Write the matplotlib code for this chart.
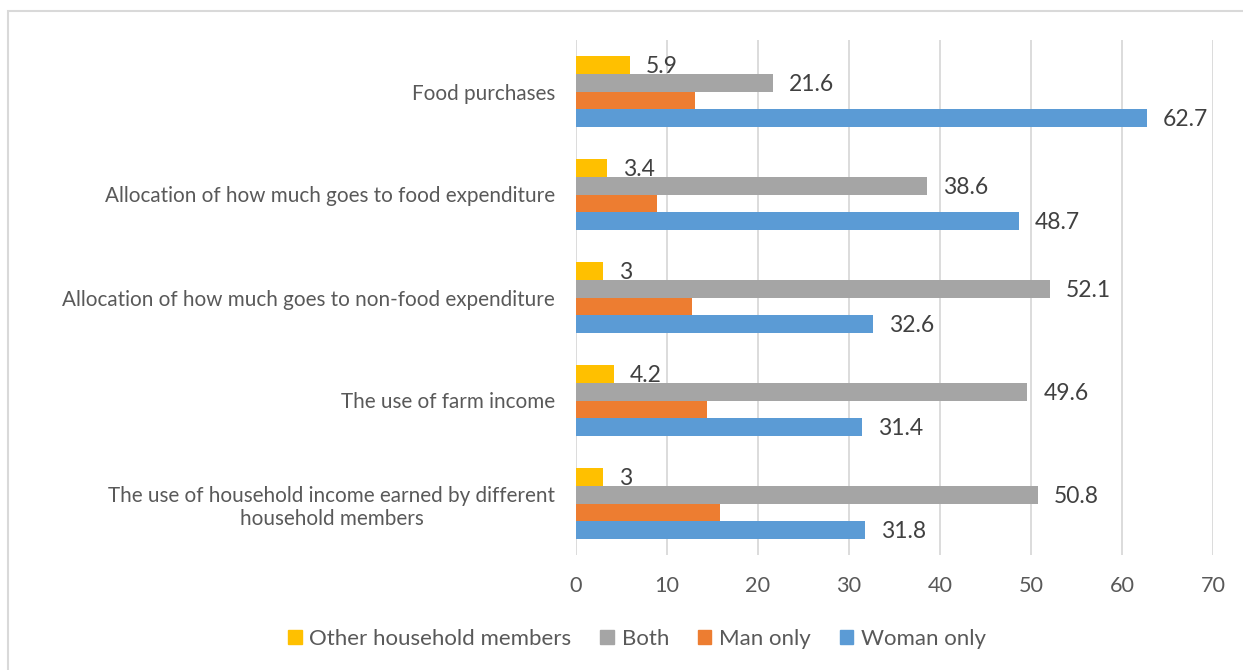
import matplotlib.pyplot as plt
import numpy as np
from matplotlib.patches import Patch, Rectangle

# Decision areas, top to bottom
categories = [
    'Food purchases',
    'Allocation of how much goes to food expenditure',
    'Allocation of how much goes to non-food expenditure',
    'The use of farm income',
    'The use of household income earned by different\nhousehold members',
]

# Share of respondents (%) per decision maker
other_members = [5.9, 3.4, 3, 4.2, 3]
both = [21.6, 38.6, 52.1, 49.6, 50.8]
man_only = [13.1, 8.9, 12.7, 14.4, 15.8]
woman_only = [62.7, 48.7, 32.6, 31.4, 31.8]

series = [
    ('Other household members', other_members, '#FFC000', True),
    ('Both', both, '#A5A5A5', True),
    ('Man only', man_only, '#ED7D31', False),
    ('Woman only', woman_only, '#5B9BD5', True),
]

plt.rcParams['font.family'] = ['Lato', 'DejaVu Sans']

fig = plt.figure(figsize=(12.43, 6.70), dpi=100)
ax = fig.add_axes([576 / 1243, 1 - 555 / 670, (1213 - 576) / 1243, (555 - 40) / 670])

bar_h = 0.17
ind = np.arange(len(categories))

for i, (name, vals, color, show_labels) in enumerate(series):
    y = ind + (i - 1.5) * bar_h
    bars = ax.barh(y, vals, height=bar_h, color=color, label=name, zorder=3)
    if show_labels:
        for rect, v in zip(bars, vals):
            ax.annotate(f'{v:g}', (rect.get_width(), rect.get_y() + rect.get_height() / 2),
                        xytext=(11.5, -1), textcoords='offset points',
                        va='center', ha='left', fontsize=16.5, color='#404040')

ax.set_ylim(len(categories) - 0.5, -0.5)
ax.set_xlim(0, 70)
ax.set_xticks(np.arange(0, 71, 10))
ax.set_yticks(ind)
ax.set_yticklabels(categories, multialignment='center')

ax.grid(axis='x', color='#D9D9D9', linewidth=1.3, zorder=0)
for s in ax.spines.values():
    s.set_visible(False)
ax.tick_params(axis='both', length=0, labelcolor='#595959')
ax.tick_params(axis='y', pad=15, labelsize=14.9)
ax.tick_params(axis='x', pad=15, labelsize=15.6)

# Legend along the bottom
handles = [Patch(color=c, label=n) for n, _, c, _ in series]
fig.legend(handles=handles, loc='center', bbox_to_anchor=(637 / 1243, 1 - 639 / 670),
           ncol=4, frameon=False, fontsize=16, handlelength=0.6, handleheight=0.6,
           handletextpad=0.35, columnspacing=1.3, labelcolor='#595959')

# Chart frame
fig.patches.append(Rectangle((8 / 1243, -0.1), 1.2, 1 - 11 / 670 + 0.1,
                             transform=fig.transFigure, fill=False,
                             edgecolor='#D9D9D9', linewidth=1.5))

fig.savefig('out.png', dpi=100)
